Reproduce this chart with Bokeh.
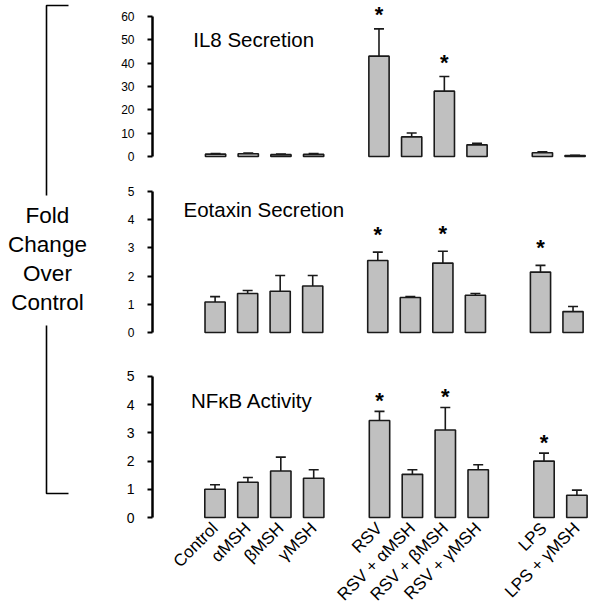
import math
from bokeh.plotting import figure
from bokeh.layouts import row, column
from bokeh.models import Range1d, FixedTicker, ColumnDataSource, Whisker, TeeHead
from bokeh.core.properties import value
from bokeh.embed import file_html
from bokeh.resources import INLINE

# ---------------- data ----------------
categories = ["Control", "\u03b1MSH", "\u03b2MSH", "\u03b3MSH",
              "RSV", "RSV + \u03b1MSH", "RSV + \u03b2MSH", "RSV + \u03b3MSH",
              "LPS", "LPS + \u03b3MSH"]
group_sizes = [4, 4, 2]

il8_mean = [1.0, 1.2, 0.8, 0.9, 43.0, 8.4, 28.0, 5.0, 1.6, 0.4]
il8_err = [0.3, 0.3, 0.2, 0.4, 11.7, 1.7, 6.3, 0.7, 0.4, 0.1]
il8_star = [False, False, False, False, True, False, True, False, False, False]
il8_ticks = [0, 10, 20, 30, 40, 50, 60]

eot_mean = [1.08, 1.38, 1.46, 1.65, 2.55, 1.24, 2.46, 1.32, 2.14, 0.74]
eot_err = [0.19, 0.11, 0.56, 0.37, 0.30, 0.03, 0.42, 0.06, 0.24, 0.18]
eot_star = [False, False, False, False, True, False, True, False, True, False]
eot_ticks = [0, 1, 2, 3, 4, 5]

nfkb_mean = [1.0, 1.25, 1.65, 1.39, 3.44, 1.53, 3.10, 1.69, 2.0, 0.79]
nfkb_err = [0.16, 0.17, 0.49, 0.30, 0.32, 0.16, 0.80, 0.18, 0.28, 0.18]
nfkb_star = [False, False, False, False, True, False, True, False, True, False]
nfkb_ticks = [0, 1, 2, 3, 4, 5]

titles = ["IL8 Secretion", "Eotaxin Secretion", "NF\u03baB Activity"]
side_label = ["Fold", "Change", "Over", "Control"]

# ---------------- layout helpers ----------------
FONT = "Liberation Sans"
FILL = "#c0c0c0"
EDGE = "#1a1a1a"
PX_X = 32.9          # px per category slot
PANEL_LEFT = 108     # page x of panel figures
PANEL_W = 602 - PANEL_LEFT
PAGE_H = 614

xs = []
pos = 0
for g in group_sizes:
    for _ in range(g):
        xs.append(pos)
        pos += 1
    pos += 1


def make_panel(title, mean, err, star, ticks, cfg, last=False):
    fig_top, fig_bot, zero_px, ppu, axis_px, ctrl_px = cfg["geom"]
    mbl = int(round(axis_px - PANEL_LEFT))
    frame_w = PANEL_W - mbl
    x0 = (axis_px - ctrl_px) / PX_X
    x1 = x0 + frame_w / PX_X
    below = 2.0
    y_start = -below / ppu
    y_end = (zero_px - fig_top) / ppu
    mbb = int(round(fig_bot - (zero_px + below)))
    p = figure(width=PANEL_W, height=int(fig_bot - fig_top),
               x_range=Range1d(x0, x1), y_range=Range1d(y_start, y_end),
               toolbar_location=None, output_backend="svg",
               min_border_left=mbl, min_border_right=0, min_border_top=0,
               min_border_bottom=mbb,
               x_axis_location="below" if last else None)
    p.outline_line_color = None
    p.xgrid.visible = False
    p.ygrid.visible = False
    p.background_fill_color = "white"
    p.border_fill_color = "white"

    top = [m + e for m, e in zip(mean, err)]
    src = ColumnDataSource(dict(x=xs, mean=mean, top=top, name=categories))
    p.vbar(x="x", top="mean", bottom=0, width=0.62, source=src,
           fill_color=FILL, line_color=EDGE, line_width=1.6)
    w = Whisker(base="x", lower="mean", upper="top", source=src,
                line_color=EDGE, line_width=1.6, lower_head=None,
                upper_head=TeeHead(size=10, line_color=EDGE, line_width=1.6))
    p.add_layout(w)

    sx = [x for x, s in zip(xs, star) if s]
    sy = [t for t, s in zip(top, star) if s]
    p.text(x=sx, y=sy, text=["*"] * len(sx), text_align="center",
           text_baseline="middle", y_offset=cfg["star_off"],
           text_font=value(FONT), text_font_size="22px", text_font_style="bold",
           text_color="black")

    tx = (cfg["title_px"][0] - ctrl_px) / PX_X
    ty = (zero_px - cfg["title_px"][1]) / ppu
    p.text(x=[tx], y=[ty], text=[title], text_align="left", text_baseline="middle",
           text_font=value(FONT), text_font_size="20.5px", text_color="black")

    ya = p.yaxis[0]
    ya.ticker = FixedTicker(ticks=ticks)
    ya.bounds = (ticks[0], ticks[-1])
    ya.axis_line_width = 2.5
    ya.axis_line_color = "black"
    ya.major_tick_line_width = 2
    ya.major_tick_out = 5
    ya.major_tick_in = 0
    ya.minor_tick_line_color = None
    ya.major_label_standoff = 13
    ya.major_label_text_font = FONT
    ya.major_label_text_font_size = cfg["tick_font"]
    ya.major_label_text_color = "black"

    if last:
        xa = p.xaxis[0]
        xa.ticker = FixedTicker(ticks=xs)
        xa.major_label_overrides = {x: n for x, n in zip(xs, categories)}
        xa.axis_line_color = None
        xa.major_tick_line_color = None
        xa.major_tick_out = 0
        xa.major_tick_in = 0
        xa.minor_tick_line_color = None
        xa.minor_tick_out = 0
        xa.major_label_orientation = math.pi / 4
        xa.major_label_text_font = FONT
        xa.major_label_text_font_size = "17px"
        xa.major_label_text_color = "black"
        xa.major_label_standoff = 6
    return p


cfg1 = dict(geom=(0, 172, 156.0, 140 / 60, 149.0, 212.5), star_off=-14,
            title_px=(190, 39), tick_font="12px")
cfg2 = dict(geom=(172, 345, 332.3, 28.27, 146.7, 210.0), star_off=-18,
            title_px=(178, 209.3), tick_font="12px")
cfg3 = dict(geom=(345, PAGE_H, 517.7, 28.33, 151.5, 214.0), star_off=-11,
            title_px=(190, 400.3), tick_font="14px")

p1 = make_panel(titles[0], il8_mean, il8_err, il8_star, il8_ticks, cfg1)
p2 = make_panel(titles[1], eot_mean, eot_err, eot_star, eot_ticks, cfg2)
p3 = make_panel(titles[2], nfkb_mean, nfkb_err, nfkb_star, nfkb_ticks, cfg3, last=True)

# ---------------- left bracket and side label ----------------
left = figure(width=PANEL_LEFT, height=PAGE_H, x_range=Range1d(0, PANEL_LEFT),
              y_range=Range1d(PAGE_H, 0), toolbar_location=None, output_backend="svg",
              min_border=0, x_axis_location=None, y_axis_location=None)
left.outline_line_color = None
left.xgrid.visible = False
left.ygrid.visible = False
bx, btop, bbot, bend = 46, 5, 493, 68
left.multi_line(xs=[[bend, bx, bx], [bx, bx, bend]],
                ys=[[btop, btop, 195], [325, bbot, bbot]],
                line_color="black", line_width=1.6)
left.text(x=[47] * len(side_label), y=[215 + 29 * i for i in range(len(side_label))],
          text=side_label, text_align="center", text_baseline="middle",
          text_font=value(FONT), text_font_size="22.5px", text_color="black")

layout = row(left, column(p1, p2, p3))
open("out.html", "w").write(file_html(layout, INLINE))
